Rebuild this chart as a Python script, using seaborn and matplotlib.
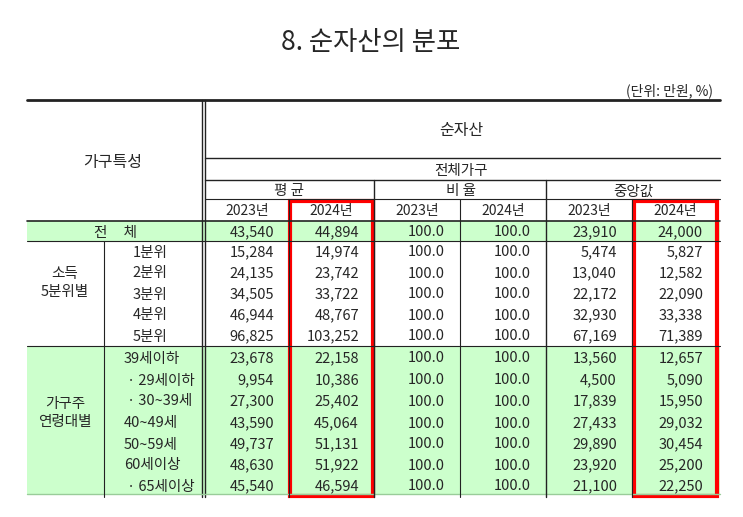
import matplotlib
matplotlib.use("Agg")
import matplotlib.pyplot as plt
import seaborn as sns
from matplotlib.patches import Rectangle

sns.set_theme(style="white")
plt.rcParams['font.family'] = ['Noto Sans CJK KR', 'DejaVu Sans']

title = "8. 순자산의 분포"
unit = "(단위: 만원, %)"
groups = ["평 균", "비 율", "중앙값"]
years = ["2023년", "2024년"]
row_labels = ["1분위", "2분위", "3분위", "4분위", "5분위",
              "39세이하", "· 29세이하", "· 30~39세", "40~49세", "50~59세", "60세이상", "· 65세이상"]
total = ["43,540", "44,894", "100.0", "100.0", "23,910", "24,000"]
mean_2023 = ["15,284", "24,135", "34,505", "46,944", "96,825",
             "23,678", "9,954", "27,300", "43,590", "49,737", "48,630", "45,540"]
mean_2024 = ["14,974", "23,742", "33,722", "48,767", "103,252",
             "22,158", "10,386", "25,402", "45,064", "51,131", "51,922", "46,594"]
ratio_2023 = ["100.0"] * 12
ratio_2024 = ["100.0"] * 12
med_2023 = ["5,474", "13,040", "22,172", "32,930", "67,169",
            "13,560", "4,500", "17,839", "27,433", "29,890", "23,920", "21,100"]
med_2024 = ["5,827", "12,582", "22,090", "33,338", "71,389",
            "12,657", "5,090", "15,950", "29,032", "30,454", "25,200", "22,250"]
cols = [mean_2023, mean_2024, ratio_2023, ratio_2024, med_2023, med_2024]

fig = plt.figure(figsize=(7.43, 5.17), dpi=100)
ax = fig.add_axes([0, 0, 1, 1])
ax.set_xlim(0, 743); ax.set_ylim(517, 0); ax.axis('off')
fig.patch.set_facecolor('white')

green = '#ccffcc'
L, R = 27, 720
fs = 10.5
VA = 'center_baseline'
ax.add_patch(Rectangle((L, 221), R - L, 20, color=green, lw=0))
ax.add_patch(Rectangle((L, 346), R - L, 148, color=green, lw=0))

ax.text(371, 40, title, ha='center', va=VA, fontsize=19, fontweight='medium')
ax.text(713, 89, unit, ha='right', va=VA, fontsize=fs - 0.5)

k = '#222222'
ax.plot([L, R], [100, 100], color=k, lw=2)
ax.plot([202, 202], [100, 497], color=k, lw=1)
ax.plot([205, 205], [100, 497], color=k, lw=1)
ax.plot([205, R], [158, 158], color=k, lw=1)
ax.plot([205, R], [180, 180], color=k, lw=1)
ax.plot([205, R], [199, 199], color=k, lw=0.8)
ax.plot([L, R], [221, 221], color=k, lw=1.2)
ax.plot([L, R], [241, 241], color=k, lw=0.8)
ax.plot([L, R], [346, 346], color=k, lw=0.8)
ax.plot([L, R], [494, 494], color='#9c9', lw=1)
for x in [374, 546]:
    ax.plot([x, x], [180, 497], color=k, lw=1)
for x in [289, 460, 632]:
    ax.plot([x, x], [199, 497], color=k, lw=0.8)
ax.plot([104, 104], [241, 497], color=k, lw=0.8)

ax.text(461, 128, "순자산", ha='center', va=VA, fontsize=fs + 1)
ax.text(461, 170, "전체가구", ha='center', va=VA, fontsize=fs)
for i, g in enumerate(groups):
    ax.text(289 + 172 * i, 190, g, ha='center', va=VA, fontsize=fs)
bounds = [205, 289, 374, 460, 546, 632, 718]
for i in range(6):
    ax.text((bounds[i] + bounds[i + 1]) / 2, 210, years[i % 2], ha='center', va=VA, fontsize=fs - 0.5)
ax.text(113, 160, "가구특성", ha='center', va=VA, fontsize=fs + 1)
ax.text(115, 231, "전     체", ha='center', va=VA, fontsize=fs)
ax.text(65, 283, "소득\n5분위별", ha='center', va='center', fontsize=fs, linespacing=1.3)
ax.text(65, 413, "가구주\n연령대별", ha='center', va='center', fontsize=fs, linespacing=1.3)

for j in range(6):
    ax.text(bounds[j + 1] - 15, 231, total[j], ha='right', va=VA, fontsize=fs)

ys = [251, 272, 293, 314, 335, 357, 379, 400, 422, 443, 464, 485]
for r, lab in enumerate(row_labels):
    if r < 5:
        ax.text(150, ys[r], lab, ha='center', va=VA, fontsize=fs)
    else:
        ax.text(124 if not lab.startswith('·') else 127, ys[r], lab, ha='left', va=VA, fontsize=fs)
    for j, col in enumerate(cols):
        ax.text(bounds[j + 1] - 15, ys[r], col[r], ha='right', va=VA, fontsize=fs)

for x0 in [290, 634]:
    ax.add_patch(Rectangle((x0, 201), 83, 295, fill=False, edgecolor='red', lw=3))

fig.savefig("out.png", dpi=100)
